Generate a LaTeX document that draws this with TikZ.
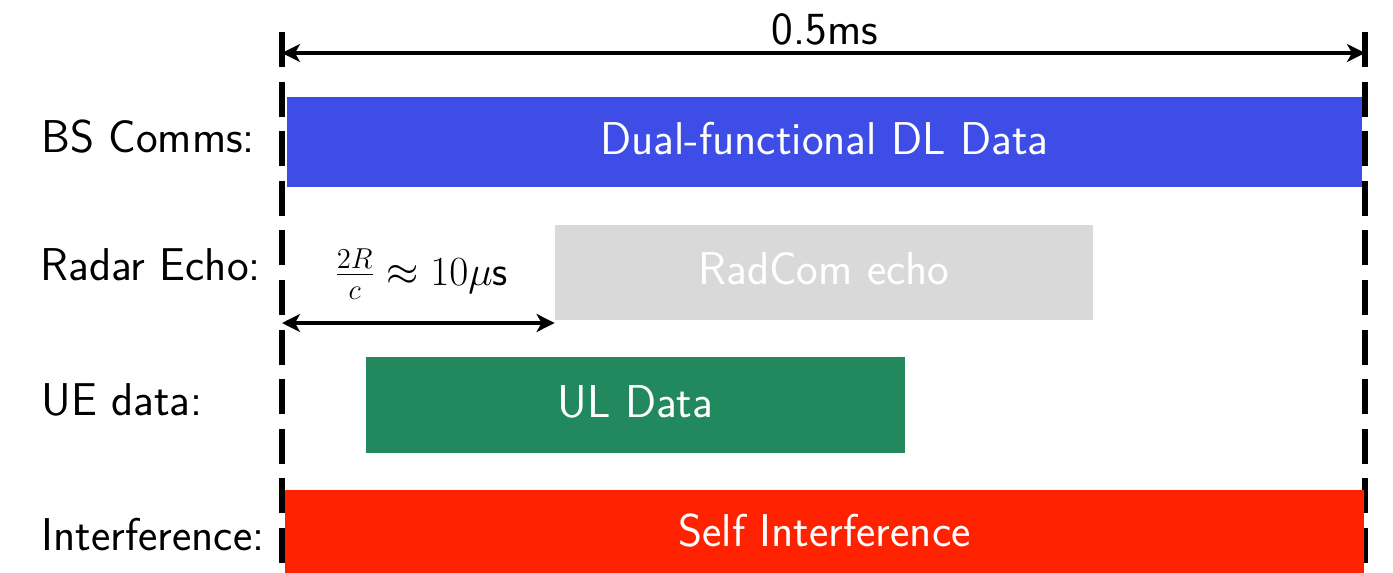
\documentclass[tikz,border=0pt]{standalone}
\usepackage{fontspec}
\usetikzlibrary{arrows.meta}
\definecolor{dlblue}{HTML}{3D4DE6}
\definecolor{echogray}{HTML}{D9D9D9}
\definecolor{ulgreen}{HTML}{21895D}
\definecolor{sired}{HTML}{FF2200}
\begin{document}
\begin{tikzpicture}[x=0.5pt,y=-0.5pt,
  bartxt/.style={font=\fontsize{23}{27}\sffamily},
  bar/.style={fill=#1, draw=none, inner sep=0pt, text=white, bartxt, text depth=3.5pt},
  rowlabel/.style={anchor=base west, inner sep=0pt, bartxt},
  guide/.style={line width=2.8pt, dash pattern=on 17.5pt off 7.3pt},
  span/.style={line width=2pt,
    {Stealth[length=9pt,width=9pt,inset=2.5pt]}-{Stealth[length=9pt,width=9pt,inset=2.5pt]}}
]
\useasboundingbox (0,0) rectangle (1393,573);
\clip (0,0) rectangle (1393,573);

% frame boundaries of the 0.5 ms slot
\coordinate (lt) at (282,32);
\coordinate (lb) at (282,580);
\coordinate (rt) at (1365,32);
\coordinate (rb) at (1365,580);
\draw[guide] (lt) -- (lb);
\draw[guide] (rt) -- (rb);

% slot duration
\coordinate (sl) at (282,53);
\coordinate (sr) at (1365,53);
\draw[span] (sl) -- (sr);
\node[anchor=base, inner sep=0pt, bartxt] (dur) at (825,45) {0.5ms};

% row labels
\node[rowlabel] (l1) at (41,152) {BS Comms:};
\node[rowlabel] (l2) at (40,280) {Radar Echo:};
\node[rowlabel] (l3) at (41,415) {UE data:};
\node[rowlabel] (l4) at (41,550) {Interference:};

% transmissions
\node[bar=dlblue, minimum width=537.5pt, minimum height=45pt] (dl) at (824.5,142) {Dual-functional DL Data};
\node[bar=echogray, minimum width=269pt, minimum height=47.5pt] (echo) at (824,272.5) {RadCom echo};
\node[bar=ulgreen, minimum width=269.5pt, minimum height=48pt] (ul) at (635.5,405) {UL Data};
\node[bar=sired, minimum width=539.5pt, minimum height=44pt] (si) at (824.5,534) {Self Interference};

% round-trip delay of the echo
\coordinate (dl0) at (282,323);
\draw[span] (dl0) -- (echo.west |- dl0);
\node[anchor=base west, inner sep=0pt, font=\fontsize{21}{25}\selectfont] (rtt) at (334,285)
  {$\frac{2R}{c}\approx 10\mu\textsf{s}$};
\end{tikzpicture}
\end{document}
